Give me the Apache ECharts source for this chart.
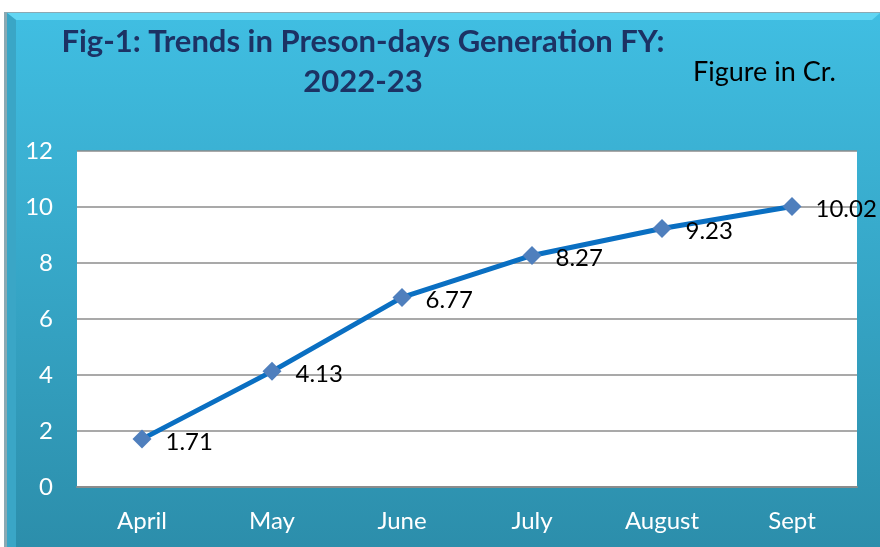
<!DOCTYPE html>
<html><head><meta charset="utf-8">
<script src="https://cdn.jsdelivr.net/npm/echarts@6/dist/echarts.min.js"></script>
<style>html,body{margin:0;padding:0;background:#fff}#c{width:880px;height:547px}</style>
</head><body><div id="c"></div>
<script>
const categories = ['April','May','June','July','August','Sept'];
const values = [1.71, 4.13, 6.77, 8.27, 9.23, 10.02];
const yTicks = [0, 2, 4, 6, 8, 10, 12];

const chart = echarts.init(document.getElementById('c'));
chart.setOption({
  backgroundColor: '#ffffff',
  graphic: [
    { type: 'rect', z: -10, shape: { x: 4, y: 12, width: 876, height: 535 },
      style: { fill: '#8aa9b3' } },
    { type: 'rect', z: -9, shape: { x: 7, y: 13, width: 873, height: 534 },
      style: { fill: { type: 'linear', x: 0, y: 0, x2: 0, y2: 1, colorStops: [
        { offset: 0, color: '#40bee2' }, { offset: 1, color: '#2c8eab' } ] } } },
    { type: 'polygon', z: -8, shape: { points: [[7,13],[880,13],[872,20],[16,20]] },
      style: { fill: '#62d6f3' } },
    { type: 'polygon', z: -8, shape: { points: [[7,13],[16,20],[16,547],[7,547]] },
      style: { fill: '#3aa6c6' } },
    { type: 'text', left: 693, top: 59, style: { text: 'Figure in Cr.', fontFamily: 'Lato', fontSize: 27, fill: '#000' } }
  ],
  title: {
    text: 'Fig-1: Trends in Preson-days Generation FY:\n2022-23',
    left: 358, top: 17, textAlign: 'center',
    textStyle: { fontFamily: 'Lato', fontWeight: 'bold', fontSize: 31, color: '#1c3264', lineHeight: 40 }
  },
  grid: { left: 77, right: 23, top: 151, bottom: 60, backgroundColor: '#fff', show: true, borderWidth: 0 },
  xAxis: {
    type: 'category', data: categories, boundaryGap: true,
    axisLine: { show: true, lineStyle: { color: '#8c8c8c', width: 2 } },
    axisTick: { show: false },
    axisLabel: { color: '#fff', fontFamily: 'Lato', fontSize: 24, margin: 22 }
  },
  yAxis: {
    type: 'value', min: 0, max: 12, interval: 2,
    axisLine: { show: false }, axisTick: { show: false },
    axisLabel: { color: '#fff', fontFamily: 'Lato', fontSize: 24, margin: 24,
      formatter: v => yTicks.includes(v) ? String(v) : '' },
    splitLine: { show: true, lineStyle: { color: '#8c8c8c', width: 1.5 } }
  },
  series: [{
    type: 'line', data: values,
    lineStyle: { color: '#0a6fc2', width: 5 },
    symbol: 'diamond', symbolSize: 19,
    itemStyle: { color: '#4f7fbd' },
    label: { show: true, position: 'right', distance: 14, offset: [0, 3],
      color: '#000', fontFamily: 'Lato', fontSize: 24 }
  }]
});
</script></body></html>
